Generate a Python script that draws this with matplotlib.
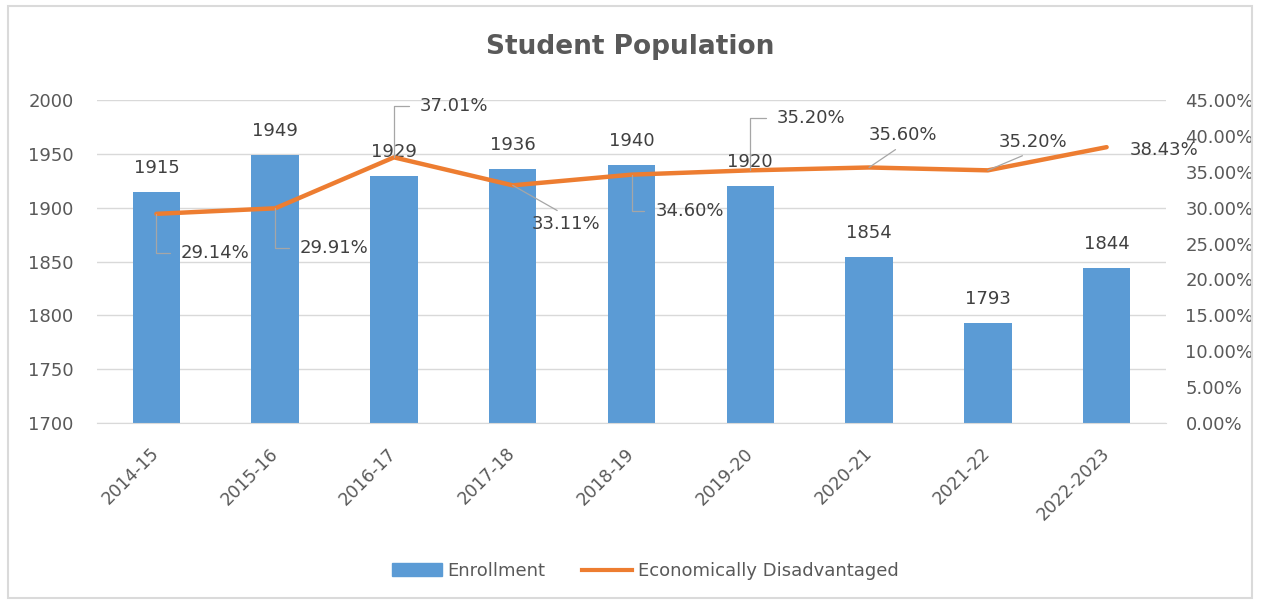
import matplotlib
matplotlib.use("Agg")
import matplotlib.pyplot as plt
from matplotlib.patches import Rectangle, Patch
from matplotlib.lines import Line2D

years = ["2014-15", "2015-16", "2016-17", "2017-18", "2018-19", "2019-20", "2020-21", "2021-22", "2022-2023"]
enrollment = [1915, 1949, 1929, 1936, 1940, 1920, 1854, 1793, 1844]
econ_pct = [29.14, 29.91, 37.01, 33.11, 34.60, 35.20, 35.60, 35.20, 38.43]
left_ticks = [1700, 1750, 1800, 1850, 1900, 1950, 2000]
right_ticks = [0, 5, 10, 15, 20, 25, 30, 35, 40, 45]

# label offsets (pixels) for percentage labels, and leader-line style
pct_offsets = [(59, -39), (59, -40), (60, 51), (53, -39), (58, -36), (61, 52), (34, 32), (45, 28), (57, -3)]
leader_kind = ["elbow", "elbow", "elbow", "diag_top", "elbow", "elbow", "diag_bottom", "diag_bottom", "none"]

BLUE = "#5B9BD5"
ORANGE = "#ED7D31"
TXT = "#595959"
LBL = "#404040"
GRID = "#D9D9D9"
FONT = "DejaVu Sans"

W, H = 1261, 603
fig = plt.figure(figsize=(W / 100, H / 100), dpi=100)
fig.patch.set_facecolor("white")

# chart frame
fig.patches.append(Rectangle((8 / W, 5 / H), 1244 / W, 592 / H, transform=fig.transFigure,
                             fill=False, edgecolor="#DADADA", lw=1.5))

left, right, top, bottom = 97, 1166, 100, 423
ax = fig.add_axes([left / W, 1 - bottom / H, (right - left) / W, (bottom - top) / H])
ax2 = ax.twinx()

x = list(range(len(years)))
ax.bar(x, enrollment, width=0.40, color=BLUE, zorder=2)
ax.set_ylim(1700, 2000)
ax.set_xlim(-0.5, len(years) - 0.5)
ax.set_yticks(left_ticks)
ax.set_yticklabels([str(t) for t in left_ticks], fontsize=13, color=TXT, family=FONT)
ax.yaxis.grid(True, color=GRID, lw=1.0, zorder=0)
ax.set_axisbelow(True)
ax.set_xticks(x)
ax.set_xticklabels(years, rotation=45, ha="right", va="center", rotation_mode="anchor",
                   fontsize=12.5, color=TXT, family=FONT)
ax.tick_params(axis="y", length=0, pad=17)
ax.tick_params(axis="x", length=0, pad=20)
for s in ax.spines.values():
    s.set_visible(False)
ax.spines["bottom"].set_visible(True)
ax.spines["bottom"].set_color(GRID)

for xi, v in zip(x, enrollment):
    ax.annotate(str(v), (xi, v), xytext=(0, 24), textcoords="offset pixels", ha="center", va="center",
                fontsize=13, color=LBL, family=FONT, zorder=5)

ax2.plot(x, econ_pct, color=ORANGE, lw=3.2, zorder=4, solid_capstyle="round")
ax2.set_ylim(0, 45)
ax2.set_yticks(right_ticks)
ax2.set_yticklabels([f"{t:.2f}%" for t in right_ticks], fontsize=13, color=TXT, family=FONT)
ax2.tick_params(axis="y", length=0, pad=14)
for s in ax2.spines.values():
    s.set_visible(False)

for xi, v, (dx, dy), kind in zip(x, econ_pct, pct_offsets, leader_kind):
    if kind == "elbow":
        ap = dict(arrowstyle="-", color="#A6A6A6", lw=0.9, shrinkA=6, shrinkB=0, relpos=(0, 0.5),
                  connectionstyle="angle,angleA=0,angleB=90,rad=0")
    elif kind == "diag_top":
        ap = dict(arrowstyle="-", color="#A6A6A6", lw=0.9, shrinkA=3, shrinkB=0, relpos=(0.5, 1),
                  connectionstyle="arc3")
    elif kind == "diag_bottom":
        ap = dict(arrowstyle="-", color="#A6A6A6", lw=0.9, shrinkA=3, shrinkB=0, relpos=(0.5, 0),
                  connectionstyle="arc3")
    else:
        ap = None
    ax2.annotate(f"{v:.2f}%", (xi, v), xytext=(dx, dy), textcoords="offset pixels", ha="center", va="center",
                 fontsize=13, color=LBL, family=FONT, zorder=6, arrowprops=ap)

fig.text(0.5, 1 - 47 / H, "Student Population", ha="center", va="center", fontsize=19, fontweight="bold",
         color=TXT, family=FONT)

# legend
handles = [Patch(facecolor=BLUE, edgecolor=BLUE), Line2D([0], [0], color=ORANGE, lw=3)]
fig.legend(handles, ["Enrollment", "Economically Disadvantaged"], loc="center", bbox_to_anchor=(645 / W, 1 - 571 / H),
           ncol=2, frameon=False, prop={"family": FONT, "size": 13}, labelcolor=TXT,
           handlelength=2.8, handleheight=0.7, handletextpad=0.3, columnspacing=2.0)

fig.savefig("out.png", dpi=100)
